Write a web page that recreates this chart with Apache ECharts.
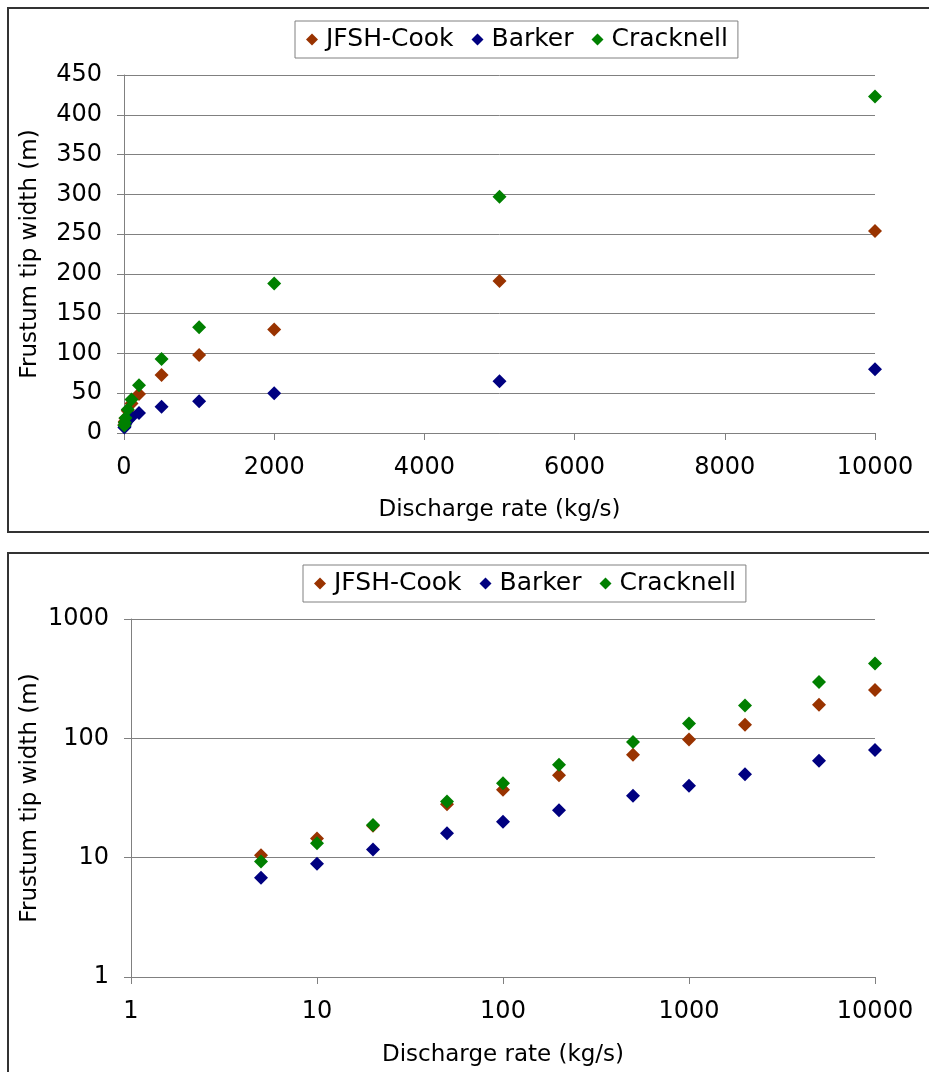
<!DOCTYPE html>
<html>
<head>
<meta charset="utf-8">
<script src="https://cdn.jsdelivr.net/npm/echarts@6/dist/echarts.min.js"></script>
<style>
  html, body { margin: 0; padding: 0; background: #fff; }
  #chart { width: 929px; height: 1072px; }
</style>
</head>
<body>
<div id="chart"></div>
<script>
// Discharge rates (kg/s) shared by all three models
const dischargeRates = [5, 10, 20, 50, 100, 200, 500, 1000, 2000, 5000, 10000];
// Frustum tip width (m) predicted by each model
const jfshCook  = [10.5, 14.5, 18.5, 28, 37, 49, 73, 98, 130, 191, 254];
const barker    = [6.8, 8.9, 11.7, 16, 20, 25, 33, 40, 50, 65, 80];
const cracknell = [9.3, 13.2, 18.8, 29.5, 42, 60, 93, 133, 188, 297, 423];

const seriesNames  = ['JFSH-Cook', 'Barker', 'Cracknell'];
const seriesValues = [jfshCook, barker, cracknell];
const seriesColors = ['#993300', '#000080', '#008000'];

const FONT = '"DejaVu Sans", Verdana, sans-serif';
const AXIS_GREY = '#808080';

function pairs(values) {
  return dischargeRates.map((x, i) => [x, values[i]]);
}

function plain(v) { return String(v); }

function legendFor(left, top) {
  return {
    left: left, top: top,
    data: seriesNames,
    icon: 'diamond',
    itemWidth: 12, itemHeight: 12, itemGap: 18,
    borderColor: '#808080', borderWidth: 1, borderRadius: 0,
    padding: [6, 10, 6, 11],
    itemStyle: { opacity: 1 },
    textStyle: { fontFamily: FONT, fontSize: 25, color: '#000', padding: [0, 0, 0, 3] }
  };
}

function axisBase(extra) {
  return Object.assign({
    axisLine: { show: true, lineStyle: { color: AXIS_GREY, width: 1 } },
    axisTick: { show: true, inside: false, length: 7, lineStyle: { color: AXIS_GREY } },
    nameTextStyle: { fontFamily: FONT, fontSize: 23, color: '#000' },
    nameLocation: 'middle',
    nameMoveOverlap: false
  }, extra);
}

function labels(margin) {
  return { fontFamily: FONT, fontSize: 24, color: '#000', margin: margin, formatter: plain };
}

const series = [];
seriesNames.forEach((name, i) => {
  [0, 1].forEach(g => {
    series.push({
      name: name,
      type: 'scatter',
      xAxisIndex: g, yAxisIndex: g,
      symbol: 'diamond',
      symbolSize: 14,
      itemStyle: { color: seriesColors[i], opacity: 1 },
      data: pairs(seriesValues[i]),
      animation: false
    });
  });
});

const chart = echarts.init(document.getElementById('chart'), null, { renderer: 'canvas' });
chart.setOption({
  backgroundColor: '#fff',
  animation: false,
  graphic: [
    { type: 'rect', shape: { x: 8, y: 8, width: 940, height: 524 },
      style: { fill: 'none', stroke: '#333', lineWidth: 2 }, z: -1 },
    { type: 'rect', shape: { x: 8, y: 553, width: 940, height: 540 },
      style: { fill: 'none', stroke: '#333', lineWidth: 2 }, z: -1 }
  ],
  legend: [legendFor(295, 21), legendFor(303, 565)],
  grid: [
    { left: 124, right: 54, top: 75, height: 358 },
    { left: 131, right: 54, top: 619, height: 358 }
  ],
  xAxis: [
    axisBase({
      gridIndex: 0, type: 'value', min: 0, max: 10000, interval: 2000,
      name: 'Discharge rate (kg/s)', nameGap: 66,
      splitLine: { show: false },
      axisLabel: labels(23)
    }),
    axisBase({
      gridIndex: 1, type: 'log', logBase: 10, min: 1, max: 10000,
      name: 'Discharge rate (kg/s)', nameGap: 67,
      splitLine: { show: false },
      minorTick: { show: false },
      axisLabel: labels(23)
    })
  ],
  yAxis: [
    axisBase({
      gridIndex: 0, type: 'value', min: 0, max: 450, interval: 50,
      name: 'Frustum tip width (m)', nameGap: 82,
      splitLine: { show: true, lineStyle: { color: AXIS_GREY, width: 1 } },
      axisLabel: labels(22)
    }),
    axisBase({
      gridIndex: 1, type: 'log', logBase: 10, min: 1, max: 1000,
      name: 'Frustum tip width (m)', nameGap: 89,
      splitLine: { show: true, lineStyle: { color: AXIS_GREY, width: 1 } },
      minorTick: { show: false },
      axisLabel: labels(22)
    })
  ],
  series: series
});
</script>
</body>
</html>
